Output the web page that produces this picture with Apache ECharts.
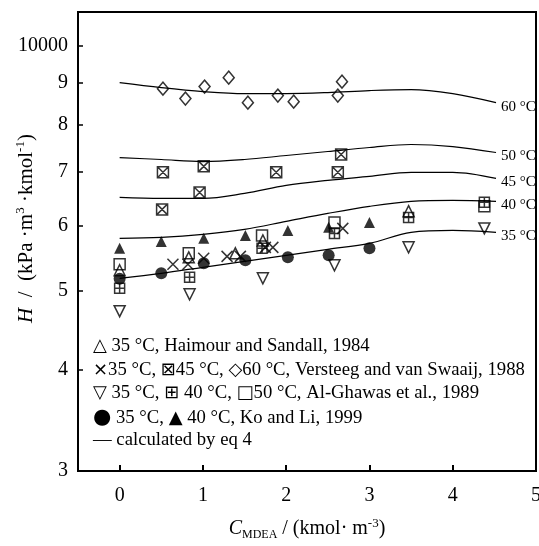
<!DOCTYPE html>
<html>
<head>
<meta charset="utf-8">
<script src="https://cdn.jsdelivr.net/npm/echarts@6/dist/echarts.min.js"></script>
<style>
  html, body { margin: 0; padding: 0; background: #fff; }
  #chart { width: 539px; height: 546px; }
</style>
</head>
<body>
<div id="chart"></div>
<script>
// Axis ticks
const xTicks = [0, 1, 2, 3, 4, 5];
const yTicks = [3000, 4000, 5000, 6000, 7000, 8000, 9000, 10000];

// Curves calculated by eq 4 (H in kPa·m3·kmol-1 against C_MDEA)
const curveX = [0, 0.5, 1, 1.5, 2, 2.5, 3, 3.5, 4, 4.52];
const curve60 = [9007, 8881, 8782, 8731, 8731, 8757, 8807, 8832, 8731, 8511];
const curve50 = [7286, 7245, 7204, 7245, 7328, 7411, 7496, 7560, 7516, 7390];
const curve45 = [6509, 6490, 6490, 6583, 6734, 6830, 6907, 6987, 6987, 6868];
const curve40 = [5796, 5812, 5861, 5945, 6081, 6220, 6346, 6436, 6454, 6436];
const curve35 = [5176, 5250, 5340, 5431, 5524, 5619, 5715, 5895, 5928, 5895];
const curveNames = ['60 °C', '50 °C', '45 °C', '40 °C', '35 °C'];

// Measured points [C_MDEA, H]
const haimour35 = [[0, 5295], [0.83, 5493], [1.39, 5556], [1.72, 5762], [3.47, 6260]];
const versteeg35 = [[0.64, 5385], [0.82, 5385], [1.01, 5478], [1.29, 5508], [1.45, 5508], [1.75, 5650], [1.84, 5650], [2.68, 5962]];
const versteeg45 = [[0.51, 6291], [0.52, 6987], [0.96, 6600], [1.01, 7106], [1.88, 6987], [2.62, 6987], [2.66, 7348]];
const versteeg60 = [[0.52, 8855], [0.79, 8608], [1.02, 8906], [1.31, 9135], [1.54, 8511], [1.90, 8683], [2.09, 8535], [2.62, 8683], [2.67, 9032]];
const ghawas35 = [[0, 4716], [0.84, 4947], [1.72, 5176], [2.58, 5370], [3.47, 5650], [4.38, 5962]];
const ghawas40 = [[0, 5031], [0.84, 5190], [1.71, 5634], [2.58, 5877], [3.47, 6150], [4.38, 6418]];
const ghawas50 = [[0, 5385], [0.83, 5556], [1.71, 5845], [2.58, 6064], [4.38, 6346]];
const ko35 = [[0, 5170], [0.5, 5250], [1.01, 5400], [1.51, 5446], [2.02, 5493], [2.51, 5524], [3.0, 5634]];
const ko40 = [[0, 5634], [0.5, 5746], [1.01, 5796], [1.51, 5845], [2.02, 5928], [2.51, 5979], [3.0, 6064]];

// Legend lines written inside the plot ({s|..} = marker glyph)
const legendLines = [
  '{s|△} 35 °C, Haimour and Sandall, 1984',
  '{s|×}35 °C, {s|⊠}45 °C, {s|◇}60 °C, Versteeg and van Swaaij, 1988',
  '{s|▽} 35 °C, {s|⊞} 40 °C, {s|□}50 °C, Al-Ghawas et al., 1989',
  '{b|●} 35 °C, {s|▲} 40 °C, Ko and Li, 1999',
  '— calculated by eq 4'
];

const SERIF = '"Liberation Serif", "DejaVu Serif", "DejaVu Sans", serif';
const BOX_X = 'path://M0,0 L10,0 L10,10 L0,10 Z M0,0 L10,10 M10,0 L0,10';
const BOX_PLUS = 'path://M0,0 L10,0 L10,10 L0,10 Z M5,0 L5,10 M0,5 L10,5';
const CROSS = 'path://M0,0 L10,10 M10,0 L0,10';

function curveSeries(name, values) {
  return {
    type: 'line',
    name: name,
    data: curveX.map((x, i) => [x, values[i]]),
    smooth: 0.35,
    showSymbol: false,
    symbol: 'none',
    lineStyle: { color: '#000', width: 1.2 },
    endLabel: {
      show: true,
      formatter: name,
      fontFamily: SERIF,
      fontSize: 15,
      color: '#000',
      distance: 5,
      offset: [0, 4]
    },
    z: 2
  };
}

function pointSeries(data, symbol, size, filled, rotate) {
  return {
    type: 'scatter',
    data: data,
    symbol: symbol,
    symbolSize: size,
    symbolRotate: rotate || 0,
    symbolKeepAspect: true,
    itemStyle: filled
      ? { color: '#000', borderColor: '#000', borderWidth: 0 }
      : { color: 'rgba(0,0,0,0)', borderColor: '#000', borderWidth: 1.5 },
    z: 3
  };
}

const chart = echarts.init(document.getElementById('chart'), null, { renderer: 'canvas' });

chart.setOption({
  animation: false,
  backgroundColor: '#fff',
  grid: {
    left: 78, right: 3, top: 12, bottom: 75,
    containLabel: false,
    outerBoundsMode: 'none',
    show: true, borderColor: '#000', borderWidth: 2, backgroundColor: 'transparent'
  },
  xAxis: {
    type: 'value',
    min: -0.5,
    max: 5,
    axisLine: { show: true, onZero: false, lineStyle: { color: '#000', width: 2 } },
    axisTick: { show: true, inside: true, length: 6, customValues: xTicks, lineStyle: { color: '#000', width: 2 } },
    axisLabel: { customValues: xTicks, fontFamily: SERIF, fontSize: 20, color: '#000', margin: 15 },
    splitLine: { show: false },
    name: '{i|C}{sub|MDEA}{t| / (kmol· m}{sup|-3}{t|)}',
    nameLocation: 'middle',
    nameGap: 46,
    nameMoveOverlap: false,
    nameTextStyle: {
      color: '#000',
      fontFamily: SERIF,
      fontSize: 20,
      rich: {
        i: { fontFamily: SERIF, fontSize: 20, fontStyle: 'italic', color: '#000', lineHeight: 24 },
        t: { fontFamily: SERIF, fontSize: 20, color: '#000', lineHeight: 24 },
        sub: { fontFamily: SERIF, fontSize: 12, color: '#000', verticalAlign: 'bottom', lineHeight: 14 },
        sup: { fontFamily: SERIF, fontSize: 13, color: '#000', verticalAlign: 'top', lineHeight: 14 }
      }
    }
  },
  yAxis: {
    type: 'log',
    logBase: 10,
    min: 3000,
    max: 11000,
    axisLine: { show: true, onZero: false, lineStyle: { color: '#000', width: 2 } },
    axisTick: { show: true, inside: true, length: 5, customValues: yTicks, lineStyle: { color: '#000', width: 1.5 } },
    minorTick: { show: false },
    axisLabel: {
      customValues: yTicks,
      formatter: v => (Math.round(v) === 10000 ? '10000' : String(Math.round(v / 1000))),
      fontFamily: SERIF, fontSize: 20, color: '#000', margin: 10
    },
    splitLine: { show: false },
    // leading gap token lifts the rotated title a little above the plot's middle
    name: '{gap|}{i|H}{t|  /  (kPa ·m}{sup|3}{t| ·kmol}{sup|-1}{t|)}',
    nameLocation: 'middle',
    nameRotate: 90,
    nameGap: 40,
    nameMoveOverlap: false,
    nameTextStyle: {
      color: '#000',
      fontFamily: SERIF,
      fontSize: 21,
      rich: {
        gap: { width: 26, fontSize: 21, lineHeight: 24 },
        i: { fontFamily: SERIF, fontSize: 21, fontStyle: 'italic', color: '#000', lineHeight: 24 },
        t: { fontFamily: SERIF, fontSize: 21, color: '#000', lineHeight: 24 },
        sup: { fontFamily: SERIF, fontSize: 13, color: '#000', verticalAlign: 'top', lineHeight: 14 }
      }
    }
  },
  graphic: legendLines.map((txt, i) => ({
    type: 'text',
    left: 93,
    top: 337 + i * 23.5,
    silent: true,
    style: {
      text: txt,
      font: '18.7px ' + SERIF,
      fill: '#000',
      rich: {
        s: { fontSize: 18, fontFamily: '"DejaVu Sans", sans-serif', fill: '#000', lineHeight: 24 },
        b: { fontSize: 21, fontFamily: '"DejaVu Sans", sans-serif', fill: '#000', lineHeight: 24 }
      }
    }
  })),
  series: [
    curveSeries(curveNames[0], curve60),
    curveSeries(curveNames[1], curve50),
    curveSeries(curveNames[2], curve45),
    curveSeries(curveNames[3], curve40),
    curveSeries(curveNames[4], curve35),
    pointSeries(versteeg60, 'diamond', [11, 13], false),
    pointSeries(versteeg45, BOX_X, 11, false),
    pointSeries(ghawas50, 'rect', 11, false),
    pointSeries(ghawas40, BOX_PLUS, 10, false),
    pointSeries(ghawas35, 'triangle', 11, false, 180),
    pointSeries(haimour35, 'triangle', 11, false),
    pointSeries(versteeg35, CROSS, 11, false),
    pointSeries(ko35, 'circle', 12, true),
    pointSeries(ko40, 'triangle', 11, true)
  ]
});
</script>
</body>
</html>
